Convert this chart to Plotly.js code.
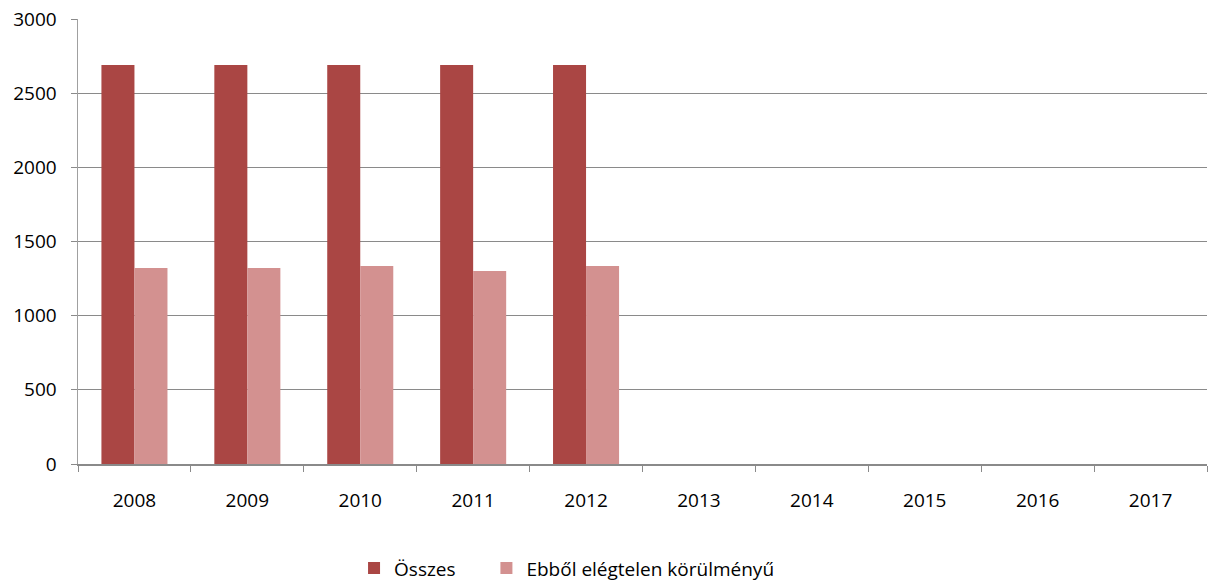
<!DOCTYPE html>
<html>
<head>
<meta charset="utf-8">
<script src="https://cdn.plot.ly/plotly-3.0.1.min.js"></script>
<style>body{margin:0;padding:0;background:#fff}#chart{width:1210px;height:584px}
g.legend2 .legendtext{letter-spacing:1.3px}</style>
</head>
<body>
<div id="chart"></div>
<script>
var years = ["2008","2009","2010","2011","2012","2013","2014","2015","2016","2017"];
var osszes = [2690, 2690, 2690, 2690, 2690, 0, 0, 0, 0, 0];
var elegtelen = [1321, 1321, 1335, 1301, 1335, 0, 0, 0, 0, 0];
var seriesNames = ["Összes", "Ebből elégtelen körülményű"];

var font = "Open Sans, Liberation Sans, sans-serif";
var traces = [
  {type:"bar", x:years, y:osszes, name:seriesNames[0], marker:{color:"#AA4644"}, hoverinfo:"x+y", legend:"legend"},
  {type:"bar", x:years, y:elegtelen, name:seriesNames[1], marker:{color:"#D39190"}, hoverinfo:"x+y", legend:"legend2"}
];
var legFont = {family:font, size:19};
var layout = {
  width:1210, height:584,
  margin:{l:78, r:3, t:19, b:120},
  paper_bgcolor:"#fff", plot_bgcolor:"#fff",
  barmode:"group", bargap:0.415, bargroupgap:0,
  font:{family:font, size:19, color:"#000"},
  xaxis:{type:"category", showgrid:false, showline:true, linecolor:"#8a8a8a", linewidth:1.5,
         ticks:"outside", tickson:"boundaries", ticklen:6, tickcolor:"#8a8a8a",
         ticklabelstandoff:19, tickfont:{family:font, size:19}, zeroline:false},
  yaxis:{range:[0,3000], dtick:500, tick0:0, showgrid:true, gridcolor:"#8a8a8a", gridwidth:1,
         showline:true, linecolor:"#a0a0a0", linewidth:1.5, ticks:"outside", ticklen:6, tickcolor:"#8a8a8a",
         ticklabelstandoff:10, tickfont:{family:font, size:19}, zeroline:false},
  showlegend:true,
  legend:{orientation:"h", xref:"container", yref:"container", x:0.2926, xanchor:"left", y:0.027, yanchor:"middle",
          font:legFont, itemwidth:30},
  legend2:{orientation:"h", xref:"container", yref:"container", x:0.402, xanchor:"left", y:0.027, yanchor:"middle",
          font:legFont, itemwidth:30}
};
Plotly.newPlot("chart", traces, layout, {displayModeBar:false, staticPlot:true});
</script>
</body>
</html>
